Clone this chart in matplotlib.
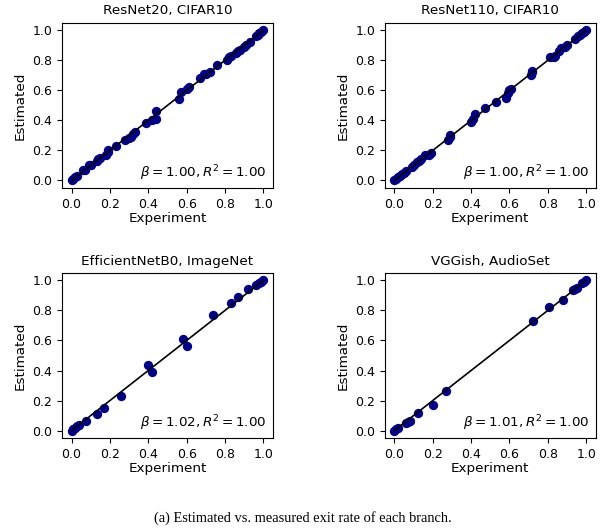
import matplotlib
matplotlib.use("Agg")
import matplotlib.pyplot as plt

# Exit-rate data (experiment vs. estimated)
titles = ["ResNet20, CIFAR10", "ResNet110, CIFAR10",
          "EfficientNetB0, ImageNet", "VGGish, AudioSet"]
betas = [1.00, 1.00, 1.02, 1.01]
r2s = [1.00, 1.00, 1.00, 1.00]

resnet20_x = [0.0, 0.01, 0.02, 0.03, 0.06, 0.07, 0.09, 0.10, 0.13, 0.14, 0.15,
              0.18, 0.19, 0.19, 0.23, 0.28, 0.30, 0.31, 0.32, 0.33, 0.39, 0.42,
              0.44, 0.44, 0.56, 0.57, 0.60, 0.61, 0.67, 0.69, 0.70, 0.72, 0.76,
              0.81, 0.82, 0.83, 0.86, 0.87, 0.88, 0.90, 0.91, 0.93, 0.96, 0.97,
              0.98, 0.99, 1.0]
resnet20_y = [0.0, 0.01, 0.02, 0.03, 0.07, 0.07, 0.10, 0.10, 0.13, 0.14, 0.15,
              0.17, 0.19, 0.20, 0.23, 0.27, 0.28, 0.29, 0.31, 0.32, 0.38, 0.40,
              0.41, 0.46, 0.54, 0.59, 0.61, 0.62, 0.68, 0.71, 0.71, 0.72, 0.77,
              0.80, 0.82, 0.83, 0.85, 0.86, 0.87, 0.89, 0.90, 0.92, 0.96, 0.97,
              0.98, 0.99, 1.0]

resnet110_x = [0.0, 0.01, 0.02, 0.03, 0.04, 0.05, 0.06, 0.09, 0.10, 0.12, 0.13,
               0.14, 0.16, 0.18, 0.19, 0.28, 0.29, 0.29, 0.40, 0.41, 0.42, 0.47,
               0.53, 0.58, 0.59, 0.60, 0.61, 0.71, 0.72, 0.72, 0.81, 0.83, 0.84,
               0.86, 0.87, 0.89, 0.90, 0.94, 0.96, 0.97, 0.98, 0.99, 1.0]
resnet110_y = [0.0, 0.01, 0.02, 0.03, 0.04, 0.05, 0.06, 0.09, 0.10, 0.12, 0.13,
               0.14, 0.17, 0.17, 0.18, 0.27, 0.29, 0.30, 0.39, 0.41, 0.44, 0.48,
               0.52, 0.55, 0.58, 0.60, 0.61, 0.70, 0.72, 0.73, 0.82, 0.82, 0.83,
               0.86, 0.88, 0.89, 0.90, 0.94, 0.96, 0.97, 0.98, 0.99, 1.0]

effnet_x = [0.0, 0.01, 0.02, 0.03, 0.04, 0.075, 0.13, 0.17, 0.26, 0.40, 0.42,
            0.58, 0.60, 0.74, 0.83, 0.87, 0.92, 0.96, 0.98, 0.99, 1.0]
effnet_y = [0.0, 0.01, 0.02, 0.03, 0.04, 0.065, 0.11, 0.15, 0.23, 0.44, 0.39,
            0.61, 0.56, 0.77, 0.85, 0.89, 0.94, 0.97, 0.98, 0.99, 1.0]

vggish_x = [0.0, 0.01, 0.02, 0.06, 0.07, 0.08, 0.125, 0.20, 0.27, 0.725, 0.805,
            0.88, 0.93, 0.94, 0.95, 0.98, 0.99, 1.0]
vggish_y = [0.0, 0.01, 0.02, 0.05, 0.06, 0.065, 0.12, 0.17, 0.265, 0.73, 0.82,
            0.87, 0.935, 0.945, 0.95, 0.98, 0.99, 1.0]

fit_x = [0.0, 1.0]
fit_y = [0.0, 1.0]

xs = [resnet20_x, resnet110_x, effnet_x, vggish_x]
ys = [resnet20_y, resnet110_y, effnet_y, vggish_y]
ticks = [0.0, 0.2, 0.4, 0.6, 0.8, 1.0]

fig = plt.figure(figsize=(6.06, 5.31), dpi=100)
lefts = [0.1023, 0.635, 0.1023, 0.635]
bottoms = [0.646, 0.646, 0.175, 0.175]

for i in range(4):
    ax = fig.add_axes([lefts[i], bottoms[i], 0.348, 0.311])
    ax.scatter(xs[i], ys[i], color="darkblue", s=45, linewidths=0, zorder=2)
    ax.plot(fit_x, fit_y, color="black", lw=1.2, zorder=3)
    ax.set_xlim(-0.05, 1.05)
    ax.set_ylim(-0.05, 1.05)
    ax.set_xticks(ticks)
    ax.set_yticks(ticks)
    ax.tick_params(labelsize=9)
    ax.set_title(titles[i], fontsize=9.7)
    ax.set_xlabel("Experiment", fontsize=9.7, labelpad=1)
    ax.set_ylabel("Estimated", fontsize=9.7)
    ax.text(0.97, 0.03, r"$\beta = %.2f, R^2 = %.2f$" % (betas[i], r2s[i]),
            transform=ax.transAxes, ha="right", va="bottom", fontsize=9.7)

fig.text(0.5, 0.0245, "(a) Estimated vs. measured exit rate of each branch.",
         ha="center", va="center", family="Liberation Serif", fontsize=10.4)

fig.savefig("out.png", dpi=100)
